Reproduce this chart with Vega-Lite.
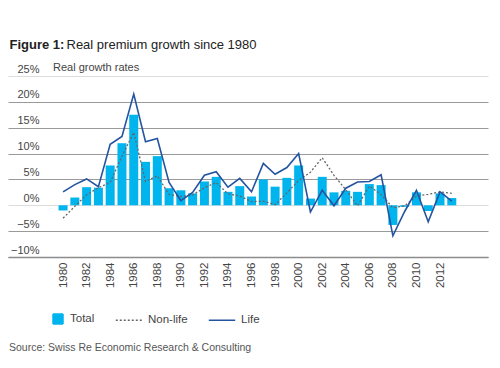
{
  "$schema": "https://vega.github.io/schema/vega-lite/v6.json",
  "width": 480,
  "height": 181,
  "autosize": {"type": "none"},
  "padding": {"left": 8, "top": 76, "right": 12, "bottom": 111},
  "background": "white",
  "config": {"view": {"stroke": null}, "font": "Liberation Sans"},
  "title": {
    "text": "Source: Swiss Re Economic Research & Consulting",
    "orient": "bottom",
    "anchor": "start",
    "frame": "group",
    "offset": 16,
    "dx": 1,
    "fontSize": 10.5,
    "fontWeight": "normal",
    "color": "#555555"
  },
  "data": {
    "values": [
      {"year": 1980, "Total": -1.0, "Non-life": -2.5, "Life": 2.6},
      {"year": 1981, "Total": 1.5, "Non-life": -0.2, "Life": 4.0},
      {"year": 1982, "Total": 3.5, "Non-life": 2.0, "Life": 5.1},
      {"year": 1983, "Total": 3.4, "Non-life": 3.4, "Life": 3.6},
      {"year": 1984, "Total": 7.7, "Non-life": 4.4, "Life": 11.8},
      {"year": 1985, "Total": 12.0, "Non-life": 9.5, "Life": 13.3},
      {"year": 1986, "Total": 17.5, "Non-life": 14.1, "Life": 21.5},
      {"year": 1987, "Total": 8.4, "Non-life": 4.6, "Life": 12.3},
      {"year": 1988, "Total": 9.5, "Non-life": 5.7, "Life": 12.9},
      {"year": 1989, "Total": 3.3, "Non-life": 2.1, "Life": 4.4},
      {"year": 1990, "Total": 2.9, "Non-life": 1.7, "Life": 0.9},
      {"year": 1991, "Total": 2.3, "Non-life": 2.0, "Life": 2.5},
      {"year": 1992, "Total": 4.6, "Non-life": 3.4, "Life": 5.8},
      {"year": 1993, "Total": 5.5, "Non-life": 4.4, "Life": 6.5},
      {"year": 1994, "Total": 2.6, "Non-life": 2.2, "Life": 3.5},
      {"year": 1995, "Total": 3.7, "Non-life": 1.8, "Life": 5.2},
      {"year": 1996, "Total": 1.7, "Non-life": 0.7, "Life": 2.6},
      {"year": 1997, "Total": 5.0, "Non-life": 0.8, "Life": 8.1},
      {"year": 1998, "Total": 3.6, "Non-life": 0.1, "Life": 6.0},
      {"year": 1999, "Total": 5.3, "Non-life": 2.4, "Life": 7.3},
      {"year": 2000, "Total": 7.7, "Non-life": 4.8, "Life": 10.0},
      {"year": 2001, "Total": 1.3, "Non-life": 6.4, "Life": -1.3},
      {"year": 2002, "Total": 5.5, "Non-life": 9.2, "Life": 2.9},
      {"year": 2003, "Total": 2.5, "Non-life": 5.8, "Life": -0.1},
      {"year": 2004, "Total": 2.8, "Non-life": 3.0, "Life": 3.3},
      {"year": 2005, "Total": 2.6, "Non-life": -0.1, "Life": 4.5},
      {"year": 2006, "Total": 4.1, "Non-life": 3.7, "Life": 4.6},
      {"year": 2007, "Total": 3.9, "Non-life": 2.1, "Life": 5.9},
      {"year": 2008, "Total": -3.8, "Non-life": -0.5, "Life": -5.9},
      {"year": 2009, "Total": -0.3, "Non-life": -0.1, "Life": -1.2},
      {"year": 2010, "Total": 2.5, "Non-life": 1.8, "Life": 2.9},
      {"year": 2011, "Total": -1.1, "Non-life": 2.1, "Life": -3.2},
      {"year": 2012, "Total": 2.3, "Non-life": 2.6, "Life": 2.6},
      {"year": 2013, "Total": 1.4, "Non-life": 2.3, "Life": 0.8}
    ]
  },
  "transform": [{"fold": ["Total", "Non-life", "Life"], "as": ["series", "value"]}],
  "encoding": {
    "x": {
      "field": "year",
      "type": "quantitative",
      "scale": {"domain": [1975.75, 2015.65], "nice": false, "zero": false},
      "axis": {
        "values": [1980, 1982, 1984, 1986, 1988, 1990, 1992, 1994, 1996, 1998, 2000, 2002, 2004, 2006, 2008, 2010, 2012],
        "format": "d",
        "labelAngle": -90,
        "labelAlign": "right",
        "labelBaseline": "middle",
        "labelPadding": 5,
        "labelFontSize": 11.5,
        "labelColor": "#444444",
        "labelFlush": false,
        "labelOverlap": false,
        "ticks": false,
        "tickSize": 0,
        "grid": false,
        "domain": true,
        "domainColor": "#8c8c8c",
        "domainWidth": 1.5,
        "title": "Figure 1:",
        "titleX": 1,
        "titleY": -209,
        "titleAlign": "left",
        "titleBaseline": "alphabetic",
        "titleFontSize": 13,
        "titleFontWeight": "bold",
        "titleColor": "#222222"
      }
    },
    "y": {
      "field": "value",
      "type": "quantitative",
      "scale": {"domain": [-10, 25], "nice": false, "zero": false},
      "axis": {
        "values": [-10, -5, 0, 5, 10, 15, 20, 25],
        "domain": false,
        "ticks": false,
        "tickSize": 0,
        "labelPadding": -31,
        "labelAlign": "right",
        "labelBaseline": "alphabetic",
        "labelOffset": -4,
        "labelFlush": false,
        "labelOverlap": false,
        "labelExpr": "format(datum.value, 'd') + '%'",
        "labelFontSize": 11,
        "labelColor": "#444444",
        "grid": true,
        "gridColor": {"condition": {"test": "datum.value === 25 || datum.value === 0", "value": "#dcdcdc"}, "value": "#9a9a9a"},
        "gridWidth": 1.2,
        "title": "Real premium growth since 1980",
        "titleAngle": 0,
        "titleX": 58,
        "titleY": -28,
        "titleAlign": "left",
        "titleBaseline": "alphabetic",
        "titleFontSize": 13,
        "titleFontWeight": "normal",
        "titleColor": "#222222"
      }
    },
    "color": {
      "field": "series",
      "type": "nominal",
      "scale": {"domain": ["Total", "Non-life", "Life"], "range": ["#00b4ee", "#666666", "#2454a0"]},
      "legend": {
        "orient": "none",
        "legendX": 45,
        "legendY": -14,
        "direction": "horizontal",
        "title": "Real growth rates",
        "titleOrient": "top",
        "titleAnchor": "start",
        "titlePadding": 232,
        "titleFontSize": 11,
        "titleFontWeight": "normal",
        "titleColor": "#444444",
        "titleLimit": 400,
        "labelFontSize": 11.5,
        "labelColor": "#444444",
        "columnPadding": 17,
        "symbolSize": 700,
        "encode": {
          "symbols": {
            "update": {
              "shape": {"signal": "datum.value === 'Total' ? 'square' : 'stroke'"},
              "size": {"signal": "datum.value === 'Total' ? 100 : 700"},
              "x": {"signal": "datum.value === 'Total' ? 5 : 14"},
              "fill": {"signal": "datum.value === 'Total' ? '#00b4ee' : 'transparent'"},
              "stroke": {"signal": "datum.value === 'Total' ? 'transparent' : (datum.value === 'Life' ? '#2454a0' : '#666666')"},
              "strokeWidth": {"value": 1.5},
              "strokeDash": {"signal": "datum.value === 'Non-life' ? [2, 2] : [1, 0]"},
              "opacity": {"value": 1}
            }
          },
          "labels": {
            "update": {
              "x": {"signal": "datum.value === 'Total' ? 17 : 33"}
            }
          }
        }
      }
    }
  },
  "layer": [
    {
      "transform": [{"filter": "datum.series === 'Total'"}],
      "mark": {"type": "bar", "size": 9}
    },
    {
      "transform": [{"filter": "datum.series === 'Non-life'"}],
      "mark": {"type": "line", "strokeDash": [2, 2], "strokeWidth": 1.3}
    },
    {
      "transform": [{"filter": "datum.series === 'Life'"}],
      "mark": {"type": "line", "strokeWidth": 1.6}
    }
  ]
}
